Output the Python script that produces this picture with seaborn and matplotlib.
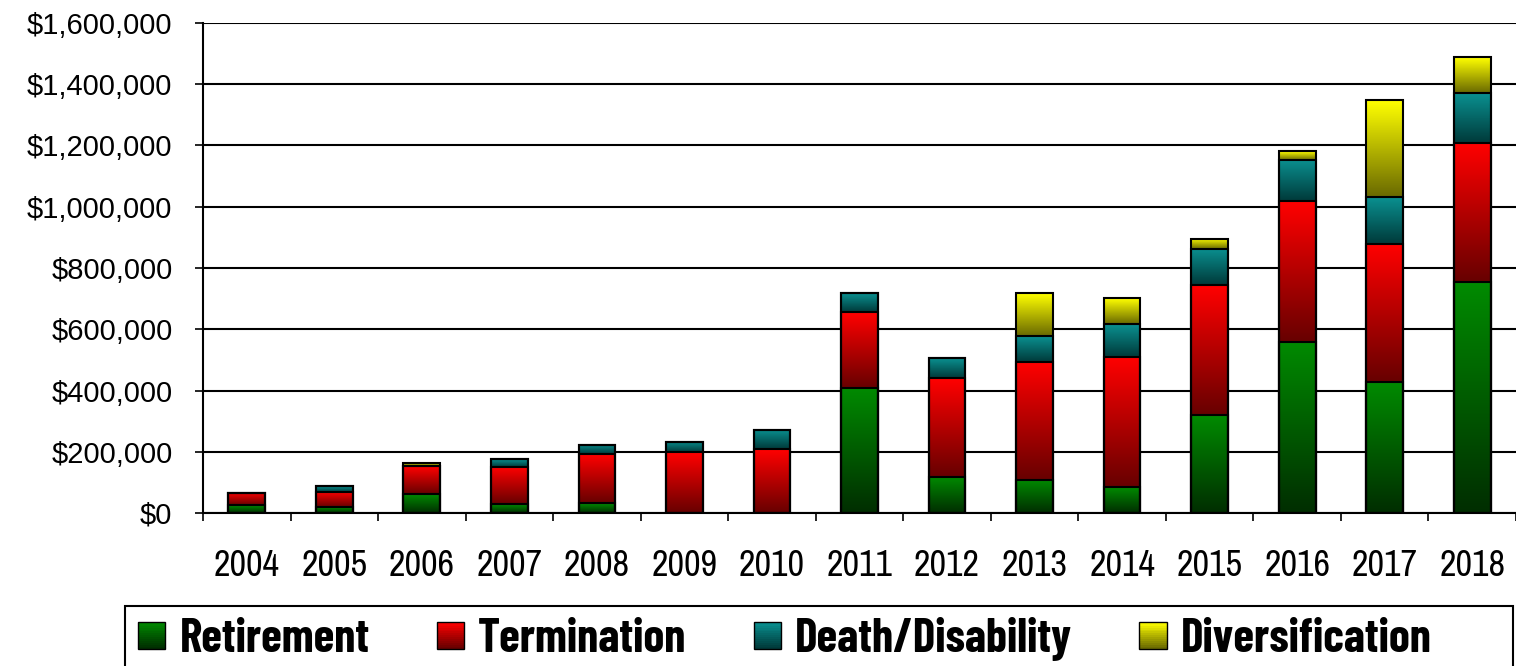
import numpy as np
import pandas as pd
import matplotlib
matplotlib.use('Agg')
import matplotlib.pyplot as plt
import seaborn as sns
from matplotlib.colors import LinearSegmentedColormap
from matplotlib.patches import Rectangle
from matplotlib.legend_handler import HandlerBase
from matplotlib.ticker import FuncFormatter
from matplotlib.font_manager import FontProperties

# values (dollars)
years = [str(y) for y in range(2004, 2019)]
retirement = [26000, 19000, 62000, 29000, 32000, 0, 0, 409000, 119000, 108000, 84000, 320000, 559000, 427000, 754000]
termination = [40000, 51000, 90000, 122000, 160000, 198000, 208000, 246000, 323000, 386000, 426000, 424000, 460000, 451000, 455000]
death_disability = [0, 18000, 0, 26000, 30000, 34000, 63000, 62000, 64000, 84000, 107000, 118000, 134000, 153000, 162000]
diversification = [0, 0, 12000, 0, 0, 0, 0, 0, 0, 139000, 84000, 34000, 28000, 316000, 117000]

series = ['Retirement', 'Termination', 'Death/Disability', 'Diversification']
# (bright top, dark bottom) of each gradient
grad = {
    'Retirement': ('#008a00', '#002e00'),
    'Termination': ('#ff0000', '#680000'),
    'Death/Disability': ('#0a9090', '#003a3a'),
    'Diversification': ('#ffff00', '#6a6a00'),
}

df = pd.DataFrame({'year': years, 'Retirement': retirement, 'Termination': termination,
                   'Death/Disability': death_disability, 'Diversification': diversification})
cum = df[series].cumsum(axis=1)

sns.set_theme(style='white')
plt.rcParams['font.family'] = ['Liberation Sans', 'DejaVu Sans']
plt.rcParams['text.color'] = 'black'
plt.rcParams['xtick.color'] = 'black'
plt.rcParams['ytick.color'] = 'black'

fig = plt.figure(figsize=(15.16, 6.66), dpi=100)
ax = fig.add_axes([203 / 1516, 1 - 513 / 666, 1313 / 1516, 490 / 666])

# stacked bars: draw cumulative totals, tallest first
for s in reversed(series):
    sns.barplot(x=df['year'], y=cum[s], color=grad[s][0], width=0.42,
                errorbar=None, ax=ax, edgecolor='black', linewidth=1.5, zorder=2)

# gradient fill for each segment
for i, s in enumerate(series):
    cont = ax.containers[len(series) - 1 - i]
    cmap = LinearSegmentedColormap.from_list(s, [grad[s][1], grad[s][0]])
    for j, bar in enumerate(cont):
        bar.set_facecolor('none')
        bar.set_zorder(4)
        lo = cum[series[i - 1]].iloc[j] if i > 0 else 0
        hi = cum[s].iloc[j]
        if hi - lo <= 0:
            continue
        x0 = bar.get_x()
        ax.imshow(np.linspace(0, 1, 64).reshape(-1, 1), cmap=cmap, origin='lower',
                  extent=(x0, x0 + bar.get_width(), lo, hi), aspect='auto',
                  interpolation='bilinear', zorder=3)

ax.set_xlim(-0.5, len(years) - 0.5)
ax.set_ylim(0, 1600000)
ax.set_aspect('auto')

ax.yaxis.grid(True, color='black', linewidth=1.5)
ax.set_axisbelow(True)
ax.set_yticks(np.arange(0, 1600001, 200000))
ax.yaxis.set_major_formatter(FuncFormatter(lambda v, p: f'${v:,.0f}'))
ax.tick_params(axis='y', length=6, width=1.2, pad=16, labelsize=21, left=True)

bounds = np.arange(-0.5, len(years), 1.0)
ax.set_xticks(bounds, labels=[''] * len(bounds))
ax.set_xticks(np.arange(len(years)), labels=years, minor=True)
ax.tick_params(axis='x', which='major', length=6, width=1.2, direction='out', bottom=True)
ax.tick_params(axis='x', which='minor', length=0, pad=26)
for lab in ax.get_xticklabels(minor=True):
    lab.set_family(['Archivo Narrow', 'Liberation Sans'])
    lab.set_fontsize(26)
ax.set_xlabel('')
ax.set_ylabel('')

for side in ['top', 'right']:
    ax.spines[side].set_visible(False)
for side in ['left', 'bottom']:
    ax.spines[side].set_color('black')
    ax.spines[side].set_linewidth(1.5)


class GradientHandler(HandlerBase):
    def __init__(self, top, bottom):
        super().__init__()
        self.cmap = LinearSegmentedColormap.from_list('h', [bottom, top])

    def create_artists(self, legend, orig_handle, xdescent, ydescent, width, height, fontsize, trans):
        n = 14
        arts = []
        for k in range(n):
            arts.append(Rectangle((-xdescent, -ydescent + k * height / n), width, height / n + 0.3,
                                  facecolor=self.cmap(k / (n - 1)), edgecolor='none', transform=trans))
        arts.append(Rectangle((-xdescent, -ydescent), width, height, fill=False,
                              edgecolor='black', linewidth=1.0, transform=trans))
        return arts


handles = [Rectangle((0, 0), 1, 1) for s in series]
hmap = {h: GradientHandler(*grad[s]) for h, s in zip(handles, series)}
fig.legend(handles, series, handler_map=hmap, loc='center left',
           bbox_to_anchor=(138 / 1516, 1 - 639 / 666), ncol=4, frameon=False,
           borderpad=0, borderaxespad=0, handlelength=0.58, handleheight=0.49,
           handletextpad=0.3, columnspacing=1.42,
           prop=FontProperties(family=['Barlow Condensed', 'Liberation Sans'], weight='bold', size=34))
fig.add_artist(Rectangle((125 / 1516, -0.1), 1388 / 1516, 0.1 + 1 - 606 / 666, transform=fig.transFigure,
                         fill=False, edgecolor='black', linewidth=1.5))

fig.savefig('out.png', dpi=100)
